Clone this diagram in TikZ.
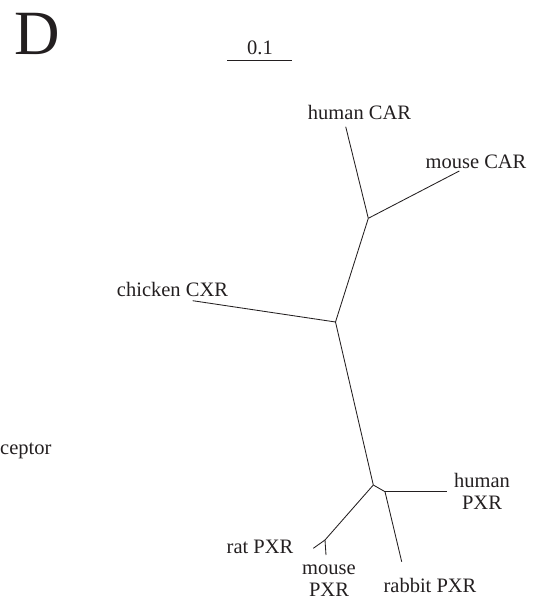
\documentclass[tikz,border=0pt]{standalone}
\usepackage{fontspec}
\setmainfont{Liberation Serif}
\definecolor{ink}{HTML}{231F20}
\begin{document}
\begin{tikzpicture}[x=1pt,y=-1pt,
  branch/.style={draw=ink,line width=0.85pt},
  lbl/.style={inner sep=0pt,text=ink,font=\fontsize{20.5}{22}\selectfont,align=center}]
\useasboundingbox (0,0) rectangle (533,607);
% panel letter
\node[inner sep=0pt,text=ink,font=\fontsize{63}{63}\selectfont,anchor=base west] (D) at (14,55) {D};
% scale bar
\coordinate (s1) at (227,60);
\coordinate (s2) at (292,60);
\draw[branch] (s1) -- (s2);
\node[lbl] (scl) at (260,48) {0.1};
% internal nodes
\coordinate (nCAR) at (368.3,218.3);
\coordinate (nMid) at (335.5,322);
\coordinate (nPXR) at (373.3,485);
\coordinate (nPXR2) at (385,491.7);
\coordinate (nRM) at (325,540);
% leaves
\coordinate (lhCAR) at (345.7,126.7);
\coordinate (lmCAR) at (459.3,171);
\coordinate (lcCXR) at (192.7,300.7);
\coordinate (lhPXR) at (446.7,491.7);
\coordinate (lrbPXR) at (401.7,561.7);
\coordinate (lrPXR) at (313.3,548.3);
\coordinate (lmPXR) at (326,555);
% branches
\draw[branch] (lhCAR) -- (nCAR);
\draw[branch] (lmCAR) -- (nCAR);
\draw[branch] (nCAR) -- (nMid);
\draw[branch] (lcCXR) -- (nMid);
\draw[branch] (nMid) -- (nPXR);
\draw[branch] (nPXR) -- (nPXR2);
\draw[branch] (nPXR2) -- (lhPXR);
\draw[branch] (nPXR2) -- (lrbPXR);
\draw[branch] (nPXR) -- (nRM);
\draw[branch] (nRM) -- (lrPXR);
\draw[branch] (nRM) -- (lmPXR);
% labels
\node[lbl] (thCAR) at (359.5,112) {human CAR};
\node[lbl] (tmCAR) at (476,162) {mouse CAR};
\node[lbl] (tcCXR) at (172.5,289) {chicken CXR};
\node[lbl] (thPXR) at (482,491) {human\\PXR};
\node[lbl] (trPXR) at (260,547) {rat PXR};
\node[lbl] (tmPXR) at (329,581) {mouse\\PXR};
\node[lbl] (trbPXR) at (430,585) {rabbit PXR};
\node[lbl,anchor=west] (tcep) at (0,451) {ceptor};
\end{tikzpicture}
\end{document}
